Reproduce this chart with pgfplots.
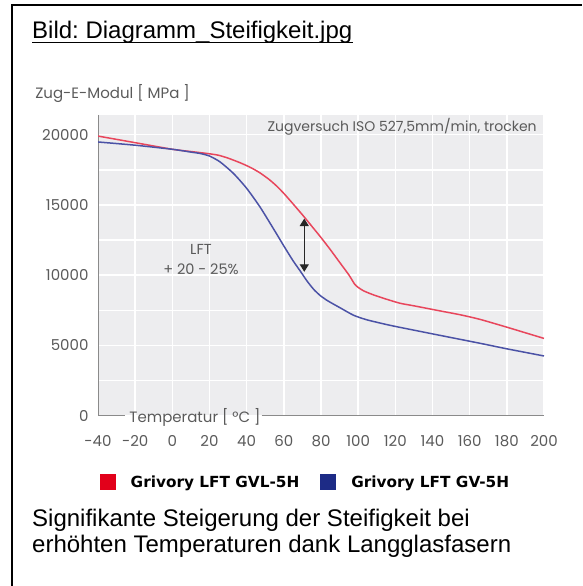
\documentclass[border=0pt]{standalone}
\usepackage{fontspec}
\setmainfont{Liberation Sans}
\newfontfamily\chartfont{Poppins}
\newfontfamily\legfont{DejaVu Sans}
\usepackage{pgfplots}
\pgfplotsset{compat=1.18}
\usetikzlibrary{calc,arrows.meta}
\definecolor{redline}{HTML}{E8465C}
\definecolor{blueline}{HTML}{4B52A6}
\definecolor{legred}{HTML}{E2001A}
\definecolor{legblue}{HTML}{1D2B86}
\definecolor{bgg}{HTML}{EDEDEF}
\definecolor{axgray}{HTML}{8A8A8A}
\definecolor{txtgray}{HTML}{5A5A5A}
\frenchspacing

\pgfplotstableread{
x y
-40 19900
-20 19430
0 18960
10 18800
20 18640
25 18530
30 18330
36.5 18000
42 17670
47 17295
52 16820
56 16360
60 15820
64 15220
67 14760
71 14140
76 13330
80 12680
85 11820
90 10920
95 10020
98 9380
100 9130
103 8880
108 8610
115 8300
122.6 8000
130 7820
142.4 7500
155 7180
165.7 6850
180 6300
190 5900
200 5500
}\redtab

\pgfplotstableread{
x y
-40 19480
-20 19250
0 18960
10 18760
15 18660
20 18480
25.7 18060
32.9 17240
40 16180
47.2 14850
54.3 13330
60.6 11950
65 11020
68.8 10300
72.4 9600
76 9000
79.5 8560
83.1 8220
87 7920
90 7700
97.5 7150
104 6850
110 6650
119 6380
142.4 5760
165.7 5150
180 4760
200 4250
}\bluetab

\begin{document}
\begin{tikzpicture}[x=1pt,y=1pt]
\useasboundingbox (0,0) rectangle (582,586);
\draw[line width=2pt] (11.5,0) -- (11.5,580.5) -- (582,580.5);
\node[anchor=base west, inner sep=0, font=\fontsize{24}{28}\selectfont] (t) at (32,547.7) {Bild: Diagramm\_Steifigkeit.jpg};
\draw[line width=1.3pt] ($(t.base west)+(0,-4)$) -- ($(t.base east)+(0,-4)$);

\begin{axis}[
  at={(98pt,170.3pt)}, anchor=south west,
  scale only axis, width=446pt, height=300.7pt,
  xmin=-40, xmax=200, ymin=0, ymax=21400,
  clip mode=individual,
  axis background/.style={fill=bgg},
  axis line style={draw=none},
  xtick={-40,-20,...,200},
  xticklabels={{-40},{-20},0,20,40,60,80,100,120,140,160,180,200},
  ytick={0,5000,...,20000},
  minor ytick={2500,7500,12500,17500},
  grid=both,
  major grid style={white, line width=1.5pt},
  minor grid style={white, line width=1.5pt},
  major tick length=0pt, minor tick length=0pt,
  tick style={draw=none},
  ticklabel style={font=\chartfont\fontsize{15}{18}\selectfont, text=txtgray},
  /pgf/number format/assume math mode=true,
  scaled y ticks=false,
  yticklabel style={/pgf/number format/set thousands separator={}, xshift=-6pt},
  xticklabel style={yshift=-16pt},
  ylabel={Zug-E-Modul [ MPa ]},
  ylabel style={rotate=-90, at={(rel axis cs:-0.141,1.072)}, anchor=west, inner sep=0pt, font=\chartfont\fontsize{15}{18}\selectfont, text=txtgray},
  xlabel={Temperatur [ °C ]},
  xlabel style={at={(rel axis cs:0.2175,0)}, anchor=center, yshift=-2pt, inner sep=0pt, font=\chartfont\fontsize{15}{18}\selectfont, text=txtgray},
  legend columns=2,
  legend image code/.code={\fill[#1, draw=none] (0pt,-8pt) rectangle (16pt,8pt); \path[draw=none, fill=none] (16pt,0pt) -- (29pt,0pt);},
  legend style={at={(rel axis cs:0.465,-0.2205)}, anchor=center, draw=none, fill=none,
    font=\legfont\bfseries\fontsize{15.3}{18}\selectfont,
    /tikz/every even column/.append style={column sep=19pt}},
]
\draw[axgray, line width=1pt] (rel axis cs:0,1) -- (rel axis cs:0,0) -- (rel axis cs:0.0605,0);
\draw[axgray, line width=1pt] (rel axis cs:0.367,0) -- (rel axis cs:1,0);
\addplot[forget plot, redline, line width=1.5pt, smooth, tension=0.4] table {\redtab};
\addplot[forget plot, blueline, line width=1.5pt, smooth, tension=0.4] table {\bluetab};
\addplot[forget plot, black!85, line width=1.2pt, {Triangle[length=7.5pt,width=9pt]}-{Triangle[length=7.5pt,width=9pt]}] coordinates {(71,14030) (71,10240)};
\node[anchor=east, inner sep=0pt, font=\chartfont\fontsize{14}{17}\selectfont, text=txtgray] at (rel axis cs:0.984,0.96) {Zugversuch ISO 527,5mm/min, trocken};
\node[align=center, inner sep=0pt, font=\chartfont\fontsize{14.5}{20}\selectfont, text=txtgray] at (axis cs:15.4,11100) {LFT\\+ 20 - 25\%};
\addlegendimage{legred}
\addlegendentry{Grivory LFT GVL-5H}
\addlegendimage{legblue}
\addlegendentry{Grivory LFT GV-5H}
\end{axis}

\node[anchor=base west, inner sep=0, font=\fontsize{24}{28}\selectfont] at (32,59) {Signifikante Steigerung der Steifigkeit bei};
\node[anchor=base west, inner sep=0, font=\fontsize{24}{28}\selectfont] at (32,33) {erhöhten Temperaturen dank Langglasfasern};
\end{tikzpicture}
\end{document}
